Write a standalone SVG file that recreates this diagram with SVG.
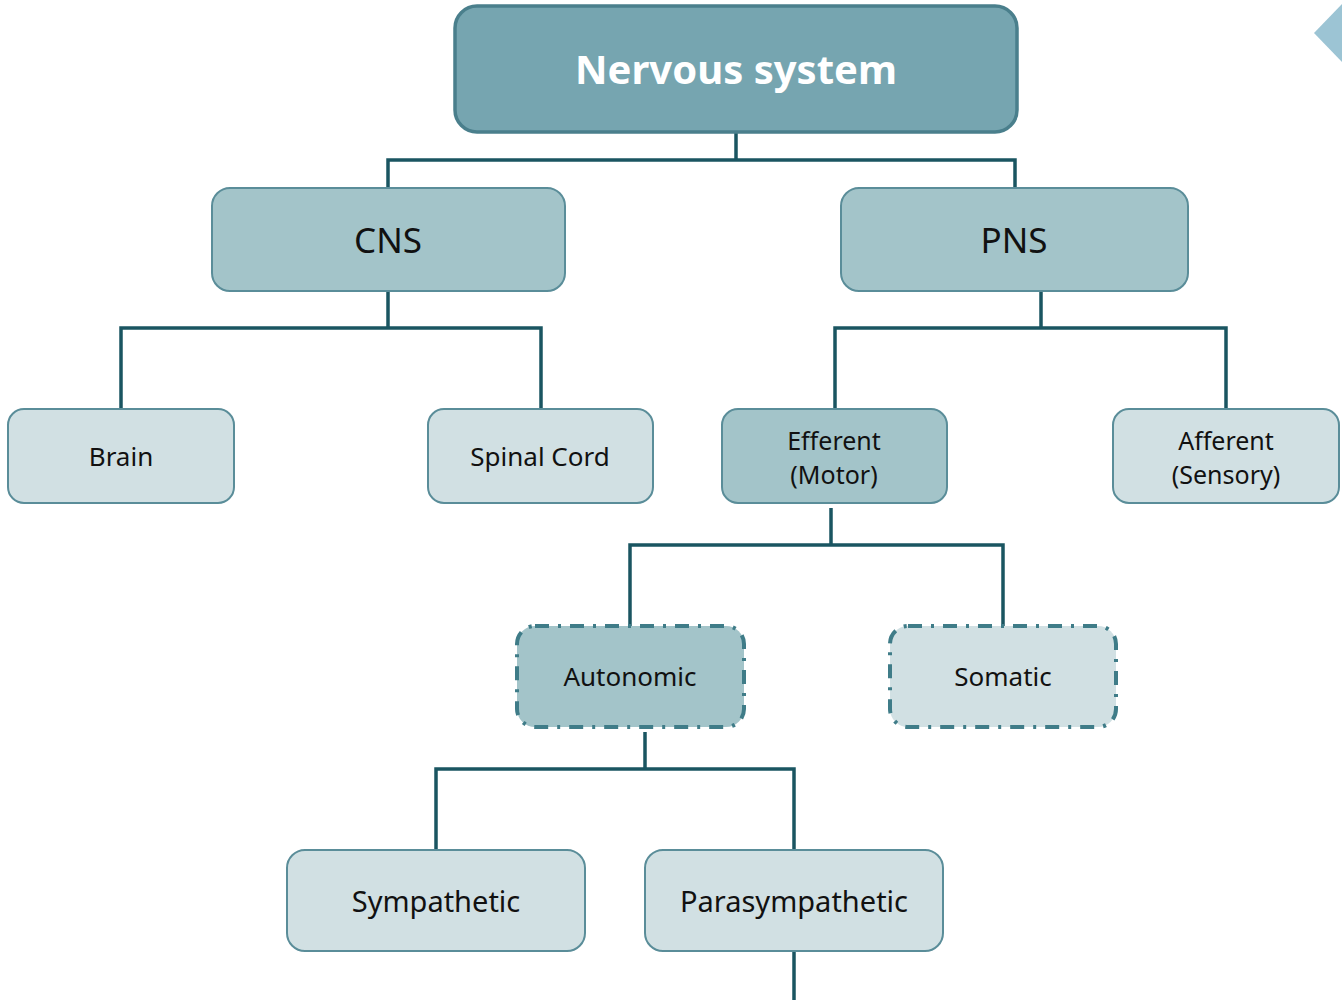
<svg xmlns="http://www.w3.org/2000/svg" width="1342" height="1000" viewBox="0 0 1342 1000">
<style>
.t{font-family:"Noto Sans","Open Sans","DejaVu Sans",sans-serif;fill:#111;text-anchor:middle;dominant-baseline:central}
.mid{fill:#a3c4c9;stroke:#5a8d99;stroke-width:2}
.lt{fill:#d1e0e3;stroke:#5a8d99;stroke-width:2}
.dash{stroke:#3f7c88;stroke-width:4;stroke-dasharray:14 9 3 9}
.c{fill:none;stroke:#1a5561;stroke-width:3.5;stroke-linejoin:miter}
</style>
<rect width="1342" height="1000" fill="#fff"/>
<polygon points="1314,33 1343,3 1372,33 1343,63" fill="#9cc4d4"/>
<g id="connectors">
<path class="c" d="M736,132 V160 M388,188 V160 H1015 V188"/>
<path class="c" d="M388,291 V328 M121,409 V328 H541 V409"/>
<path class="c" d="M1041,291 V328 M835,409 V328 H1226 V409"/>
<path class="c" d="M831,508 V545 M630,626 V545 H1003 V626"/>
<path class="c" d="M645,732 V769 M436,850 V769 H794 V850"/>
<path class="c" d="M794,951 V1000"/>
</g>
<g id="nervous">
<rect x="455" y="6" width="562" height="126" rx="22" fill="#76a5b0" stroke="#4a7f8c" stroke-width="3.5"/>
<text class="t" x="736" y="68" style="font-size:40px;font-weight:bold;fill:#fff">Nervous system</text>
</g>
<g id="cns">
<rect class="mid" x="212" y="188" width="353" height="103" rx="18"/>
<text class="t" x="388" y="239" style="font-size:35px">CNS</text>
</g>
<g id="pns">
<rect class="mid" x="841" y="188" width="347" height="103" rx="18"/>
<text class="t" x="1014" y="239" style="font-size:35px">PNS</text>
</g>
<g id="brain">
<rect class="lt" x="8" y="409" width="226" height="94" rx="16"/>
<text class="t" x="121" y="456" style="font-size:26px">Brain</text>
</g>
<g id="spinal">
<rect class="lt" x="428" y="409" width="225" height="94" rx="16"/>
<text class="t" x="540" y="456" style="font-size:26px">Spinal Cord</text>
</g>
<g id="efferent">
<rect class="mid" x="722" y="409" width="225" height="94" rx="16"/>
<text class="t" x="834" y="440" style="font-size:25px">Efferent</text>
<text class="t" x="834" y="474" style="font-size:25px">(Motor)</text>
</g>
<g id="afferent">
<rect class="lt" x="1113" y="409" width="226" height="94" rx="16"/>
<text class="t" x="1226" y="440" style="font-size:25px">Afferent</text>
<text class="t" x="1226" y="474" style="font-size:25px">(Sensory)</text>
</g>
<g id="autonomic">
<rect class="dash" x="517" y="626" width="227" height="101" rx="18" fill="#a3c4c9"/>
<text class="t" x="630" y="676" style="font-size:26px">Autonomic</text>
</g>
<g id="somatic">
<rect class="dash" x="890" y="626" width="226" height="101" rx="18" fill="#d1e0e3"/>
<text class="t" x="1003" y="676" style="font-size:26px">Somatic</text>
</g>
<g id="sympathetic">
<rect class="lt" x="287" y="850" width="298" height="101" rx="18"/>
<text class="t" x="436" y="900" style="font-size:29px">Sympathetic</text>
</g>
<g id="parasympathetic">
<rect class="lt" x="645" y="850" width="298" height="101" rx="18"/>
<text class="t" x="794" y="900" style="font-size:29px">Parasympathetic</text>
</g>
</svg>
